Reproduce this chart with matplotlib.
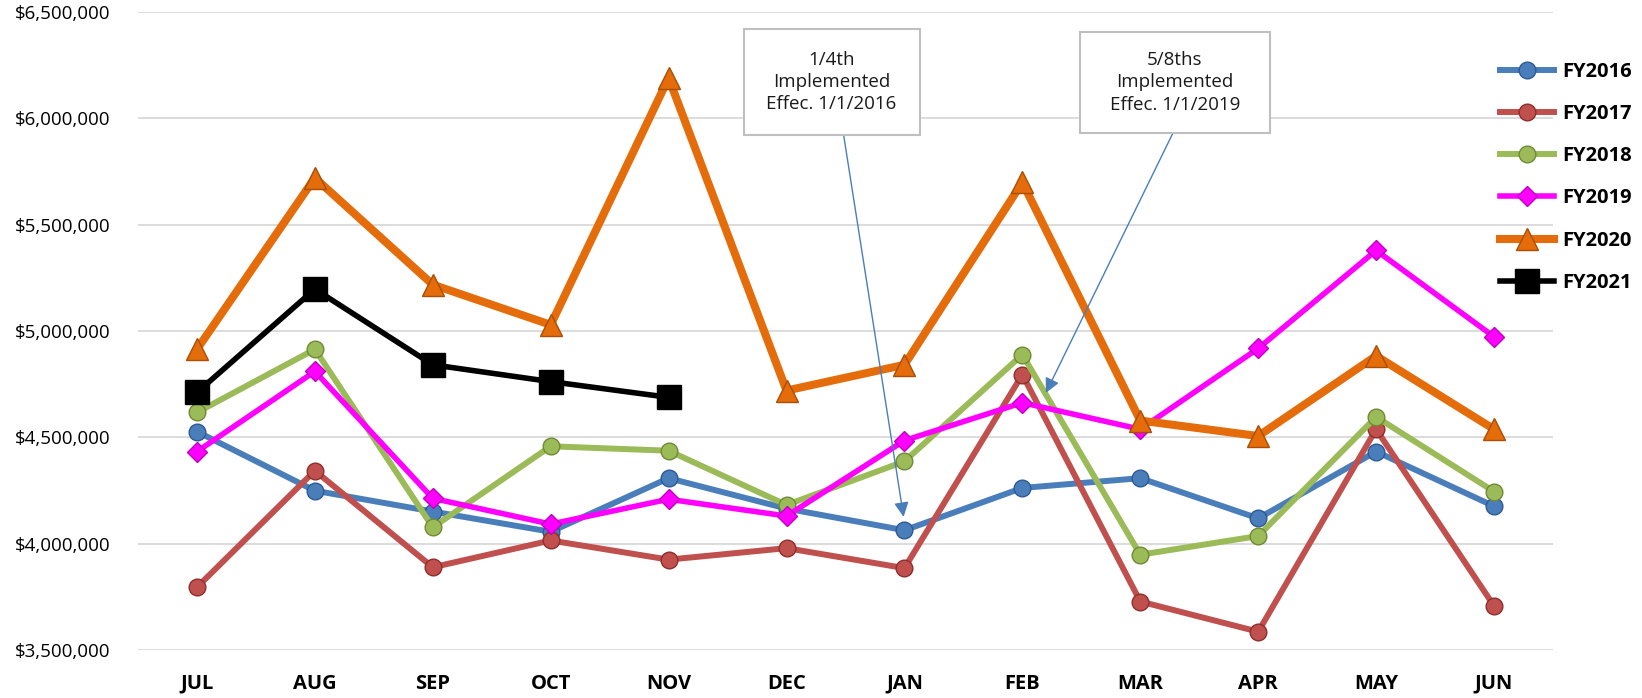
import numpy as np
import matplotlib.pyplot as plt
from matplotlib.patches import Rectangle

plt.rcParams['font.family'] = ['Open Sans', 'DejaVu Sans']

# ---- data (dollars) ----
months = ['JUL', 'AUG', 'SEP', 'OCT', 'NOV', 'DEC', 'JAN', 'FEB', 'MAR', 'APR', 'MAY', 'JUN']
fy2016 = [4527000, 4249000, 4151000, 4056000, 4308000, 4165000, 4063000, 4262000, 4308000, 4119000, 4433000, 4176000]
fy2017 = [3795000, 4343000, 3889000, 4015000, 3925000, 3979000, 3885000, 4795000, 3728000, 3586000, 4538000, 3707000]
fy2018 = [4617000, 4914000, 4077000, 4458000, 4437000, 4182000, 4387000, 4889000, 3948000, 4036000, 4596000, 4245000]
fy2019 = [4433000, 4810000, 4213000, 4092000, 4209000, 4130000, 4485000, 4663000, 4538000, 4918000, 5379000, 4973000]
fy2020 = [4914000, 5720000, 5218000, 5029000, 6190000, 4720000, 4841000, 5699000, 4579000, 4506000, 4883000, 4538000]
fy2021 = [4711000, 5197000, 4841000, 4762000, 4688000]

series_names = ['FY2016', 'FY2017', 'FY2018', 'FY2019', 'FY2020', 'FY2021']
series_vals = [fy2016, fy2017, fy2018, fy2019, fy2020, fy2021]

# ---- styles ----
styles = {
    'FY2016': dict(color='#4a7ebb', lw=4.3, marker='o', ms=12, mec='#2c5a94'),
    'FY2017': dict(color='#c0504d', lw=4.3, marker='o', ms=12, mec='#8c2f2c'),
    'FY2018': dict(color='#9bbb59', lw=4.3, marker='o', ms=12, mec='#6f8a34'),
    'FY2019': dict(color='#ff00ff', lw=4.0, marker='D', ms=10.5, mec='#c000c0'),
    'FY2020': dict(color='#e46c0a', lw=5.8, marker='^', ms=16, mec='#a84e05'),
    'FY2021': dict(color='#000000', lw=4.0, marker='s', ms=17, mec='#000000'),
}

fig = plt.figure(figsize=(16.42, 6.98), dpi=100)
ax = fig.add_axes([138 / 1642, 1 - 650 / 698, (1553 - 138) / 1642, (650 - 12) / 698])

x = np.arange(len(months))
handles = []
for i, (name, vals) in enumerate(zip(series_names, series_vals)):
    st = styles[name]
    h, = ax.plot(x[:len(vals)], vals, color=st['color'], lw=st['lw'],
                 marker=st['marker'], ms=st['ms'], mfc=st['color'],
                 mec=st['mec'], mew=1.0, label=name, zorder=3 + i,
                 solid_joinstyle='round')
    handles.append(h)

ax.set_xlim(-0.5, 11.5)
ax.set_ylim(3500000, 6500000)
ax.set_yticks(np.arange(3500000, 6500001, 500000))
ax.set_yticklabels(['${:,.0f}'.format(v) for v in ax.get_yticks()], fontsize=13.5)
ax.set_xticks(x)
ax.set_xticklabels(months, fontsize=14.5, fontweight='bold')
ax.tick_params(axis='both', length=0)
ax.tick_params(axis='y', pad=20)
ax.tick_params(axis='x', pad=17)
for sp in ax.spines.values():
    sp.set_visible(False)
ax.yaxis.grid(True, color='#d9d9d9', lw=1.3)
ax.set_axisbelow(True)

# ---- annotation boxes ----
def note_box(x0, x1, y0, y1, text):
    ax.add_patch(Rectangle((x0, y0), x1 - x0, y1 - y0, facecolor='white',
                           edgecolor='#bfbfbf', lw=1.5, zorder=20, clip_on=False))
    ax.text((x0 + x1) / 2, (y0 + y1) / 2, text, ha='center', va='center',
            fontsize=13.5, linespacing=1.3, zorder=21, color='#1a1a1a')

note_box(4.635, 6.129, 5922000, 6420000, '1/4th\nImplemented\nEffec. 1/1/2016')
note_box(7.487, 9.100, 5931000, 6406000, '5/8ths\nImplemented\nEffec. 1/1/2019')

arrow = dict(arrowstyle='-|>', color='#4a7ebb', lw=1.0, mutation_scale=22,
             shrinkA=0, shrinkB=0)
ax.annotate('', xy=(5.993, 4126000), xytext=(5.484, 5922000), arrowprops=arrow, zorder=19)
ax.annotate('', xy=(7.199, 4709000), xytext=(8.277, 5931000), arrowprops=arrow, zorder=19)

leg = fig.legend(handles=handles, loc='upper left', bbox_to_anchor=(1500 / 1642, 1 - 62 / 698),
                 frameon=False, borderpad=0, borderaxespad=0, handlelength=2.7,
                 handletextpad=0.4, labelspacing=1.10,
                 prop={'weight': 'bold', 'size': 14.5})

fig.savefig('out.png', dpi=100)
